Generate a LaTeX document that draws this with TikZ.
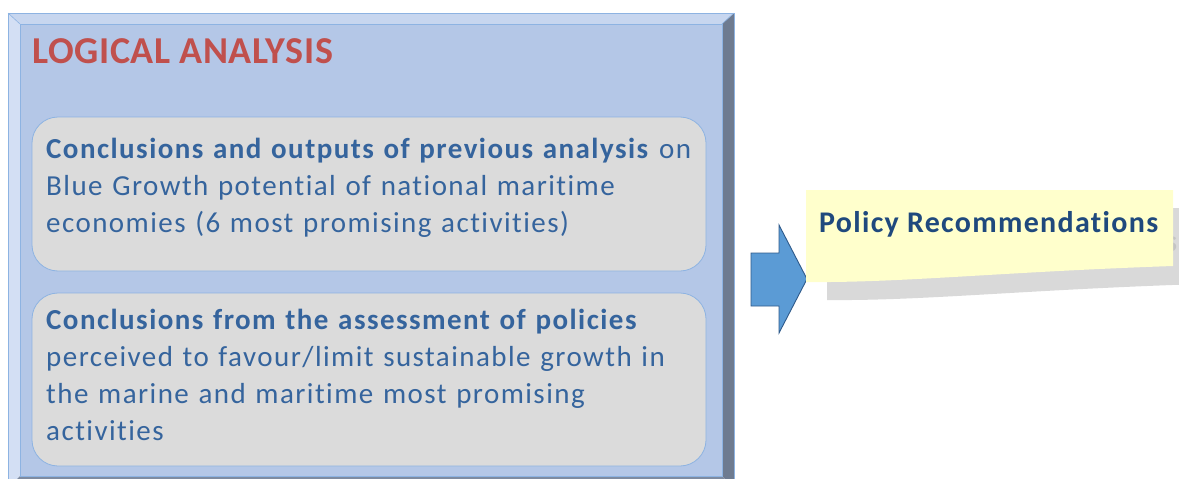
\documentclass[tikz,border=0pt]{standalone}
\usepackage{fontspec}
\setmainfont{Carlito}[Ligatures=NoCommon]
\newfontfamily\cardfont{Carlito}[Ligatures=NoCommon,LetterSpace=5.0]
\newfontfamily\titlefont{Carlito}[Ligatures=NoCommon,LetterSpace=1.6]
\newfontfamily\notefont{Carlito}[Ligatures=NoCommon,LetterSpace=4.4]
\definecolor{facebl}{HTML}{B4C7E7}
\definecolor{bevtop}{HTML}{C7D6EF}
\definecolor{bevleft}{HTML}{D3DFF4}
\definecolor{bevright}{HTML}{6E7B90}
\definecolor{bevbot}{HTML}{7E8BA1}
\definecolor{edgebl}{HTML}{8DB3E2}
\definecolor{cardgray}{HTML}{DBDBDB}
\definecolor{txtblue}{HTML}{35649D}
\definecolor{titlered}{HTML}{C0504D}
\definecolor{arrowfill}{HTML}{5B9BD5}
\definecolor{arrowline}{HTML}{2F5A8A}
\definecolor{notefill}{HTML}{FFFFCC}
\definecolor{shadowgray}{HTML}{D9D9D9}
\definecolor{shadowtxt}{HTML}{C4C4C4}
\definecolor{recblue}{HTML}{1F497D}
\tikzset{
  card/.style={fill=cardgray, draw=edgebl, line width=0.8pt, rounded corners=26pt},
  cardtext/.style={anchor=base west, inner sep=0pt, text width=680pt, align=left,
    text=txtblue, font=\cardfont\fontsize{29}{37}\selectfont},
  bevel/.style={draw=edgebl, line width=0.6pt},
  notetext/.style={anchor=base west, inner sep=0pt, font=\notefont\fontsize{30}{36}\selectfont\bfseries},
}
\begin{document}
\begin{tikzpicture}[x=1pt,y=-1pt]
\useasboundingbox (0,0) rectangle (1179,479);
\clip (0,0) rectangle (1179,479);
% bevelled frame
\fill[bevtop]   (8,13) -- (734,13) -- (722,24) -- (20,24) -- cycle;
\fill[bevleft]  (8,13) -- (20,24) -- (20,476) -- (8,488) -- cycle;
\fill[bevright] (734,13) -- (734,488) -- (722,476) -- (722,24) -- cycle;
\fill[bevbot]   (8,488) -- (20,476) -- (722,476) -- (734,488) -- cycle;
\fill[facebl] (20,24) rectangle (722,476);
\draw[bevel] (8,13) rectangle (734,488);
\draw[bevel] (20,24) rectangle (722,476);
\draw[bevel] (8,13) -- (20,24);
\draw[bevel] (734,13) -- (722,24);
\node[anchor=base west, inner sep=0pt, text=titlered, font=\titlefont\fontsize{38}{44}\selectfont\bfseries]
  (title) at (32,63) {LOGICAL ANALYSIS};
% content cards
\draw[card] (32,117) rectangle (706,271);
\draw[card] (32,293) rectangle (706,466);
\node[cardtext] (prev) at (46,158)
  {\textbf{Conclusions and outputs of previous analysis} on\\
   Blue Growth potential of national maritime\\
   economies (6 most promising activities)};
\node[cardtext] (pol) at (46,329)
  {\textbf{Conclusions from the assessment of policies}\\
   perceived to favour/limit sustainable growth in\\
   the marine and maritime most promising\\
   activities};
% block arrow
\draw[fill=arrowfill, draw=arrowline, line width=0.9pt, line join=miter]
  (751,253) -- (779,253) -- (779,225) -- (807,279) -- (779,333) -- (779,306) -- (751,306) -- cycle;
% note shadow; only the last letter of its text shows past the note
\fill[shadowgray] (827,208) -- (1200,208) -- (1200,284)
  .. controls (1021,290) and (921,301) .. (827,300) -- cycle;
\node[notetext, text=shadowtxt] (recshadow) at (1165,251) {s};
% note
\fill[notefill] (806,190) -- (1173,190) -- (1173,266)
  .. controls (1000,272) and (900,283) .. (806,282) -- cycle;
\node[notetext, text=recblue] (rec) at (819,232) {Policy Recommendations};
\end{tikzpicture}
\end{document}
